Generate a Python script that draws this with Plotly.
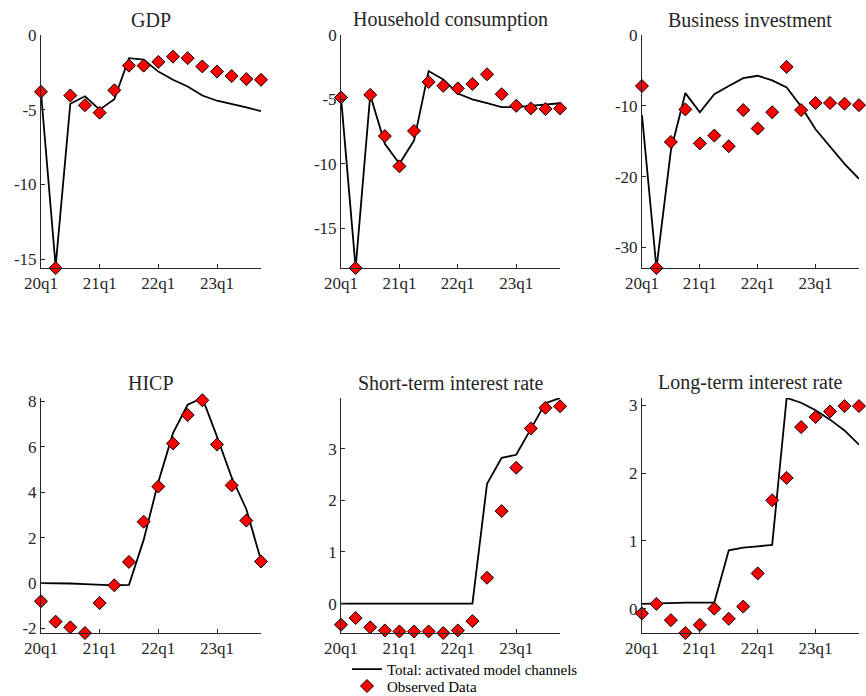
import plotly.graph_objects as go
from plotly.subplots import make_subplots

# quarters 20q1 .. 23q4
quarters = [f"{y}q{q}" for y in (20, 21, 22, 23) for q in (1, 2, 3, 4)]
year_ticks = ["20q1", "21q1", "22q1", "23q1"]

titles = ["GDP", "Household consumption", "Business investment",
          "HICP", "Short-term interest rate", "Long-term interest rate"]

# model line: total of activated channels
gdp_model = [-3.8, -15.5, -4.6, -4.1, -5.0, -4.3, -1.55, -1.65, -2.45, -3.0, -3.45, -4.05, -4.4, -4.6, -4.85, -5.1]
cons_model = [-4.85, -18.1, -4.65, -8.45, -10.0, -8.2, -2.8, -3.45, -4.55, -5.0, -5.3, -5.6, -5.6, -5.5, -5.4, -5.3]
inv_model = [-11.3, -32.9, -16.3, -8.2, -10.9, -8.35, -7.2, -6.1, -5.75, -6.4, -7.4, -10.1, -13.3, -15.8, -18.2, -20.3]
hicp_model = [0.0, 0.0, -0.02, -0.05, -0.08, -0.1, -0.08, 1.9, 4.45, 6.6, 7.85, 8.15, 6.45, 4.65, 3.25, 1.0]
str_model = [0, 0, 0, 0, 0, 0, 0, 0, 0, 0, 2.32, 2.82, 2.88, 3.37, 3.88, 3.98]
ltr_model = [0.07, 0.08, 0.09, 0.09, 0.09, 0.09, 0.86, 0.9, 0.92, 0.94, 3.11, 3.04, 2.93, 2.79, 2.63, 2.42]

# observed data
gdp_obs = [-3.8, -15.6, -4.05, -4.7, -5.2, -3.7, -2.05, -2.05, -1.8, -1.45, -1.55, -2.1, -2.45, -2.75, -2.95, -3.0]
cons_obs = [-4.85, -18.1, -4.65, -7.85, -10.2, -7.45, -3.65, -3.95, -4.15, -3.8, -3.05, -4.6, -5.5, -5.7, -5.75, -5.7]
inv_obs = [-7.2, -32.9, -15.1, -10.5, -15.3, -14.2, -15.7, -10.6, -13.2, -10.9, -4.5, -10.6, -9.6, -9.6, -9.7, -9.9]
hicp_obs = [-0.8, -1.7, -1.95, -2.2, -0.88, -0.1, 0.93, 2.7, 4.25, 6.15, 7.4, 8.05, 6.1, 4.3, 2.75, 0.95]
str_obs = [-0.41, -0.28, -0.46, -0.52, -0.54, -0.54, -0.54, -0.57, -0.52, -0.34, 0.5, 1.79, 2.63, 3.39, 3.79, 3.82]
ltr_obs = [-0.07, 0.07, -0.17, -0.36, -0.24, 0.0, -0.15, 0.03, 0.52, 1.6, 1.93, 2.68, 2.83, 2.91, 2.99, 2.99]

model = [gdp_model, cons_model, inv_model, hicp_model, str_model, ltr_model]
observed = [gdp_obs, cons_obs, inv_obs, hicp_obs, str_obs, ltr_obs]

# y tick values / labels per panel
ytick_vals = [[-15, -10, -5, 0], [-15, -10, -5, 0], [-30, -20, -10, 0],
              [-2, 0, 2, 4, 6, 8], [0, 1, 2, 3], [0, 1, 2, 3]]
ytick_text = [["-15", "-10", "-5", "0"], ["-15", "-10", "-5", "0"], ["-30", "-20", "-10", "0"],
              ["-2", "0", "2", "4", "6", "8"], ["0", "1", "2", "3"], ["0", "1", "2", "3"]]

FONT = "'Liberation Serif', 'DejaVu Serif', serif"
INK = "#262626"

fig = make_subplots(rows=2, cols=3)

xdom = [[0.0473, 0.3014], [0.3938, 0.6467], [0.7413, 0.9919]]
ydom = [[0.6149, 0.9497], [0.0905, 0.4282]]

for i in range(6):
    r, c = i // 3 + 1, i % 3 + 1
    # zero reference line
    fig.add_hline(y=0, line=dict(color="#e3e3e3", width=1.5), layer="below", row=r, col=c)
    fig.add_trace(go.Scatter(
        x=quarters, y=model[i], mode="lines",
        line=dict(color="black", width=1.8),
        name="Total: activated model channels", legend="legend",
        showlegend=(i == 0), cliponaxis=False,
    ), row=r, col=c)
    fig.add_trace(go.Scatter(
        x=quarters, y=observed[i], mode="markers",
        marker=dict(symbol="diamond", size=10, color="red",
                    line=dict(color="black", width=1)),
        name="Observed Data", legend="legend2",
        showlegend=(i == 0), cliponaxis=False,
    ), row=r, col=c)

    lo = min(min(model[i]), min(observed[i]), 0)
    hi = max(max(model[i]), max(observed[i]), 0)
    n = i + 1
    xa = "xaxis" if n == 1 else f"xaxis{n}"
    ya = "yaxis" if n == 1 else f"yaxis{n}"
    fig.layout[xa].update(
        domain=xdom[c - 1], range=[0, len(quarters) - 1],
        tickmode="array", tickvals=year_ticks, ticktext=year_ticks,
        showline=True, linecolor=INK, linewidth=1,
        ticks="inside", ticklen=4, tickcolor=INK,
        showgrid=False, zeroline=False, automargin=False,
        tickfont=dict(family=FONT, size=17, color=INK),
    )
    fig.layout[ya].update(
        domain=ydom[r - 1], range=[lo, hi],
        tickmode="array", tickvals=ytick_vals[i], ticktext=ytick_text[i],
        showline=True, linecolor=INK, linewidth=1,
        ticks="inside", ticklen=4, tickcolor=INK,
        showgrid=False, zeroline=False, automargin=False,
        tickfont=dict(family=FONT, size=17, color=INK),
    )
    fig.add_annotation(
        text=titles[i], x=0.5, y=1, xref=f"x{n if n > 1 else ''} domain",
        yref=f"y{n if n > 1 else ''} domain", xanchor="center", yanchor="bottom",
        showarrow=False, yshift=2, font=dict(family=FONT, size=20, color=INK),
    )

legend_style = dict(
    x=0.4007, xanchor="left", yanchor="top",
    font=dict(family=FONT, size=15, color="black"),
    bgcolor="rgba(0,0,0,0)",
)

fig.update_layout(
    width=866, height=696,
    # autoexpand off so the legends may sit at the very bottom edge
    margin=dict(l=0, r=0, t=0, b=0, autoexpand=False),
    paper_bgcolor="white", plot_bgcolor="white",
    font=dict(family=FONT, color=INK),
    legend=dict(y=0.0621, **legend_style),
    legend2=dict(y=0.0377, **legend_style),
)

# drop the default page margin so the figure fills the window
fig.write_html("out.html", config={"displayModeBar": False},
               post_script="document.body.style.margin='0';")
